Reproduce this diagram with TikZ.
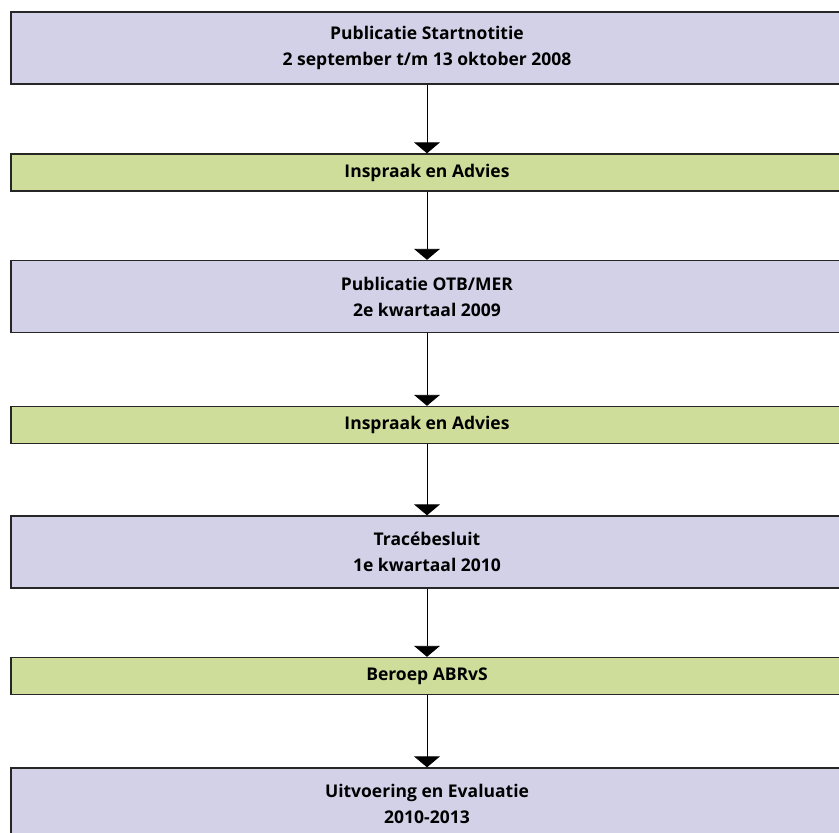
\documentclass[tikz,border=0pt]{standalone}
\usepackage{fontspec}
\setmainfont{Open Sans}
\usetikzlibrary{arrows.meta}
\definecolor{fasepaars}{RGB}{211,209,231}
\definecolor{inspraakgroen}{RGB}{206,221,153}
\tikzstyle{fase} = [rectangle, draw=black!85, line width=1.4pt, fill=fasepaars,
    minimum width=832pt, minimum height=72pt, inner sep=0pt, align=center,
    font=\bfseries\fontsize{17.5}{26}\selectfont]
\tikzstyle{inspraak} = [rectangle, draw=black!85, line width=1.4pt, fill=inspraakgroen,
    minimum width=832pt, minimum height=37pt, inner sep=0pt, align=center,
    font=\bfseries\fontsize{17.5}{26}\selectfont]
\tikzstyle{line} = [draw, line width=0.9pt, -{Triangle[width=26pt,length=11pt]}]

\begin{document}
\begin{tikzpicture}[x=1pt, y=1pt]
            \useasboundingbox (0,0) rectangle (839,-833);
            % Place nodes
            \node [fase] (start) at (427,-48) {Publicatie Startnotitie \\ 2 september t/m 13 oktober 2008};
            \node [inspraak, below of=start, node distance=124.5pt] (advies1) {Inspraak en Advies};
            \node [fase, below of=advies1, node distance=124pt] (otb) {Publicatie OTB/MER \\ 2e kwartaal 2009};
            \node [inspraak, below of=otb, node distance=128.5pt] (advies2) {Inspraak en Advies};
            \node [fase, below of=advies2, node distance=127pt] (tb) {Tracébesluit \\ 1e kwartaal 2010};
            \node [inspraak, below of=tb, node distance=124pt] (beroep) {Beroep ABRvS};
            \node [fase, below of=beroep, node distance=128pt] (uitvoering) {Uitvoering en Evaluatie \\ 2010-2013};
            % Draw edges
            \path [line] (start) -- (advies1);
            \path [line] (advies1) -- (otb);
            \path [line] (otb) -- (advies2);
            \path [line] (advies2) -- (tb);
            \path [line] (tb) -- (beroep);
            \path [line] (beroep) -- (uitvoering);
        \end{tikzpicture}
\end{document}
